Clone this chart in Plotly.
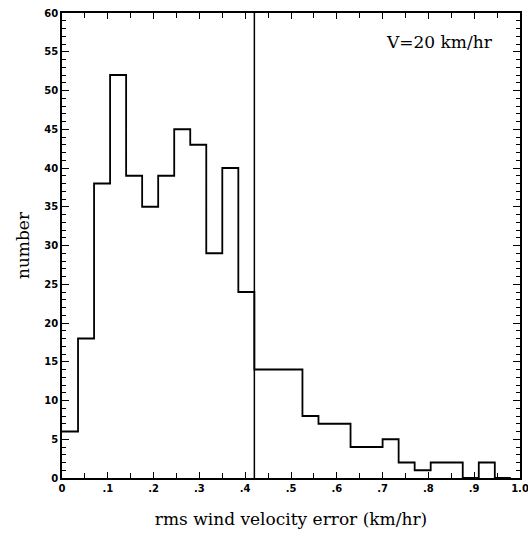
import plotly.graph_objects as go

# Histogram of rms wind velocity errors, bin width 0.035 km/hr
bin_width = 0.035
counts = [6, 18, 38, 52, 39, 35, 39, 45, 43, 29, 40, 24,
          14, 14, 14, 8, 7, 7, 4, 4, 5, 2, 1, 2, 2, 0, 2, 0]
threshold = 0.42
x_tick_vals = [0, 0.1, 0.2, 0.3, 0.4, 0.5, 0.6, 0.7, 0.8, 0.9, 1.0]
x_tick_text = ["0", ".1", ".2", ".3", ".4", ".5", ".6", ".7", ".8", ".9", "1.0"]
y_tick_vals = [0, 5, 10, 15, 20, 25, 30, 35, 40, 45, 50, 55, 60]
label_text = "V=20 km/hr"

edges = [round(i * bin_width, 4) for i in range(len(counts) + 1)]
step_x = edges[:-1] + [edges[-1]]
step_y = counts + [counts[-1]]

fig = go.Figure()
fig.add_trace(go.Scatter(
    x=step_x, y=step_y, mode="lines", line_shape="hv",
    line=dict(color="black", width=1.8), showlegend=False, hoverinfo="skip",
))
fig.add_trace(go.Scatter(
    x=[threshold, threshold], y=[0, 60], mode="lines",
    line=dict(color="black", width=1.5), showlegend=False, hoverinfo="skip",
))

tick_font = dict(family="DejaVu Sans", size=10, color="black", weight="bold")
title_font = dict(family="DejaVu Serif", size=17, color="black")

fig.update_xaxes(
    range=[0, 1.0], showgrid=False, zeroline=False, automargin=False,
    showline=True, linecolor="black", linewidth=2, mirror="allticks",
    ticks="inside", ticklen=6, tickwidth=1.3, tickcolor="black",
    tickmode="array", tickvals=x_tick_vals, ticktext=x_tick_text,
    tickfont=tick_font, ticklabeloverflow="allow",
    minor=dict(tickmode="linear", tick0=0, dtick=0.05, ticks="inside",
               ticklen=5, tickwidth=1.2, tickcolor="black"),
    title=dict(text="rms wind velocity error (km/hr)", font=title_font, standoff=20),
)
fig.update_yaxes(
    range=[0, 60], showgrid=False, zeroline=False, automargin=False,
    showline=True, linecolor="black", linewidth=1.8, mirror="allticks",
    ticks="inside", ticklen=7, tickwidth=1.3, tickcolor="black",
    tickmode="array", tickvals=y_tick_vals, tickfont=tick_font,
    ticksuffix="\u00a0\u00a0", ticklabeloverflow="allow",
    minor=dict(tickmode="linear", tick0=0, dtick=1, ticks="inside",
               ticklen=4, tickwidth=1, tickcolor="black"),
    title=dict(text="number", font=title_font, standoff=10),
)

fig.add_annotation(
    x=0.945, y=56.3, xref="x", yref="y", text=label_text, showarrow=False,
    xanchor="right", yanchor="middle",
    font=dict(family="DejaVu Serif", size=17, color="black"),
)

fig.update_layout(
    width=528, height=537,
    margin=dict(l=62, r=8, t=13, b=59),
    paper_bgcolor="white", plot_bgcolor="white",
)

fig.write_html("out.html")
